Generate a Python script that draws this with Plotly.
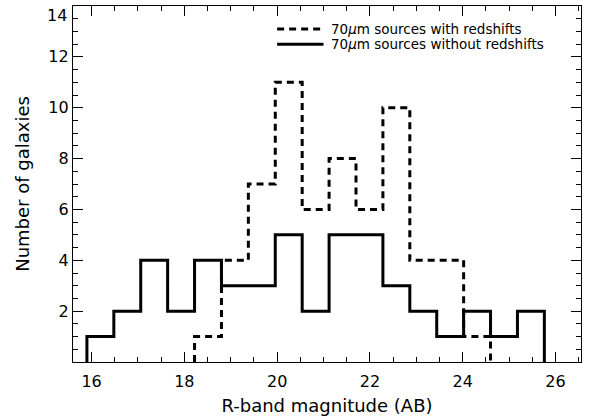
import plotly.graph_objects as go

# R-band magnitude bin edges (AB) shared by both histograms
bin_edges = [15.90, 16.48, 17.06, 17.64, 18.22, 18.80, 19.38, 19.96, 20.54,
             21.12, 21.70, 22.28, 22.86, 23.44, 24.02, 24.60, 25.18, 25.76]

# Galaxy counts per bin
counts_without_z = [1, 2, 4, 2, 4, 3, 3, 5, 2, 5, 5, 3, 2, 1, 2, 1, 2]
counts_with_z = [0, 0, 0, 0, 1, 4, 7, 11, 6, 8, 6, 10, 4, 4, 1, 0, 0]

x_ticks = [16, 18, 20, 22, 24, 26]
y_ticks = [2, 4, 6, 8, 10, 12, 14]

label_with = "70<i>μ</i>m sources with redshifts"
label_without = "70<i>μ</i>m sources without redshifts"

FONT = "DejaVu Sans"
X_RANGE = [15.6, 26.55]
Y_RANGE = [0, 14]
DASH = "7px,5px"


def step_outline(edges, counts):
    """Return x/y for an 'hv' step outline that starts and ends at zero,
    trimmed to the span of non-empty bins."""
    nz = [i for i, c in enumerate(counts) if c > 0]
    lo, hi = nz[0], nz[-1]
    xs = [edges[lo]] + edges[lo:hi + 2]
    ys = [0] + counts[lo:hi + 1] + [0]
    return xs, ys


fig = go.Figure()

xw, yw = step_outline(bin_edges, counts_with_z)
fig.add_trace(go.Scatter(
    x=xw, y=yw, mode="lines", line_shape="hv", name="with redshifts",
    line=dict(color="black", width=3, dash=DASH), showlegend=False,
))

xo, yo = step_outline(bin_edges, counts_without_z)
fig.add_trace(go.Scatter(
    x=xo, y=yo, mode="lines", line_shape="hv", name="without redshifts",
    line=dict(color="black", width=3), showlegend=False,
))

# Legend key drawn in data space at the top of the panel
legend_rows = [(13.1, label_with, DASH), (12.5, label_without, "solid")]
for y, text, dash in legend_rows:
    fig.add_trace(go.Scatter(
        x=[20.0, 21.0], y=[y, y], mode="lines", showlegend=False,
        line=dict(color="black", width=3, dash=dash), hoverinfo="skip",
    ))
    fig.add_annotation(
        x=21.15, y=y, xref="x", yref="y", text=text, showarrow=False,
        xanchor="left", yanchor="middle", borderpad=0,
        font=dict(family=FONT, size=13.5, color="black"),
    )

# The topmost y label sits just below the frame corner so it stays on the page
y_text = [str(v) for v in y_ticks]
fig.add_annotation(
    x=0, xref="paper", y=y_ticks[-1], yref="y", text=y_text[-1],
    showarrow=False, xanchor="right", yanchor="top", xshift=-5, yshift=1,
    borderpad=0, font=dict(family=FONT, size=16, color="black"),
)
y_text[-1] = ""

# Invisible trace that anchors the top/right minor-tick axes
fig.add_trace(go.Scatter(
    x=[X_RANGE[0]], y=[Y_RANGE[0]], xaxis="x2", yaxis="y2", mode="markers",
    marker=dict(opacity=0), showlegend=False, hoverinfo="skip",
))

tick_style = dict(
    showline=True, linecolor="black", linewidth=1.2, mirror="ticks",
    ticks="inside", ticklen=10, tickwidth=1, tickcolor="black",
    showgrid=False, zeroline=False, automargin=False,
    tickfont=dict(family=FONT, size=16, color="black"),
    minor=dict(ticks="inside", ticklen=5, tickwidth=1, tickcolor="black",
               dtick=0.5, tick0=0, showgrid=False),
)

# Short ticks every half unit along the top and right edges
minor_edge = dict(
    showline=False, showgrid=False, zeroline=False, showticklabels=False,
    ticks="inside", ticklen=5, tickwidth=1, tickcolor="black",
    tickmode="linear", tick0=0, dtick=0.5, automargin=False,
)

fig.update_layout(
    xaxis=dict(
        range=X_RANGE, tickmode="array", tickvals=x_ticks,
        ticklabelstandoff=5,
        title=dict(text="R-band magnitude (AB)", standoff=9,
                   font=dict(family=FONT, size=18, color="black")),
        **tick_style,
    ),
    yaxis=dict(
        range=Y_RANGE, tickmode="array", tickvals=y_ticks, ticktext=y_text,
        title=dict(text="Number of galaxies", standoff=14,
                   font=dict(family=FONT, size=18, color="black")),
        **tick_style,
    ),
    xaxis2=dict(range=X_RANGE, overlaying="x", side="top", anchor="y2",
                **minor_edge),
    yaxis2=dict(range=Y_RANGE, overlaying="y", side="right", anchor="x2",
                **minor_edge),
    width=590, height=420,
    margin=dict(l=73, r=9, t=6, b=58),
    paper_bgcolor="white", plot_bgcolor="white",
    showlegend=False,
)

fig.write_html("out.html")
